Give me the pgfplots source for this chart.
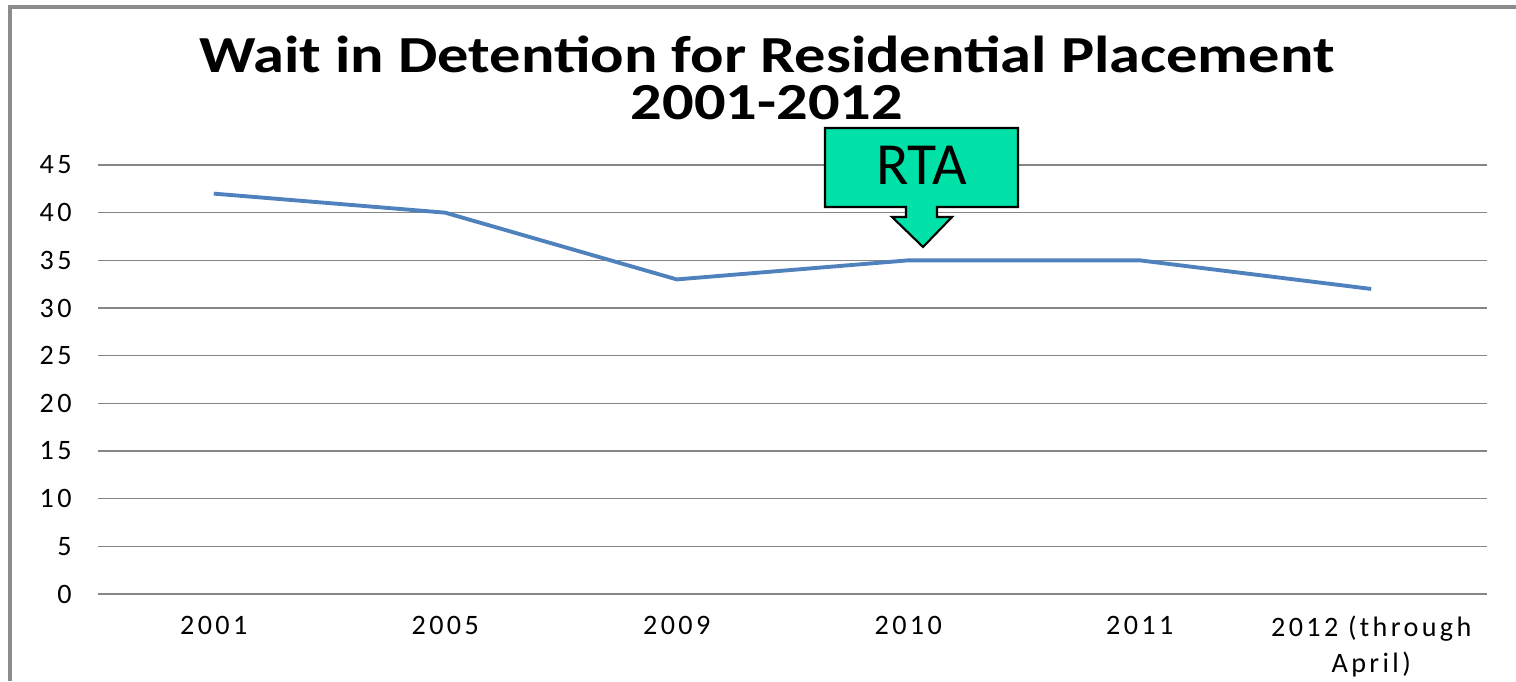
\documentclass[border=0pt]{standalone}
\usepackage{fontspec}
\setmainfont{Carlito}
\newfontfamily\tickfont[LetterSpace=12]{Carlito}
\newfontfamily\titlefont[FakeStretch=1.2]{Carlito}
\usepackage{pgfplots}
\pgfplotsset{compat=1.18}
\definecolor{linecol}{RGB}{79,129,189}
\definecolor{gridcol}{RGB}{134,134,134}
\definecolor{rtagreen}{RGB}{0,226,168}
\definecolor{framecol}{RGB}{140,140,140}

\begin{document}
\begin{tikzpicture}
  \useasboundingbox (0,0) rectangle (15.16cm,6.81cm);
  % outer frame (left and top only)
  \draw[framecol, line width=0.9pt] (0.10cm,0) -- (0.10cm,6.74cm) -- (15.16cm,6.74cm);

  \begin{axis}[
    at={(0.98cm,0.87cm)}, anchor=south west,
    scale only axis,
    width=13.89cm, height=4.29cm,
    xmin=-0.5, xmax=5.5,
    ymin=0, ymax=45,
    xtick={0,1,2,3,4,5},
    xticklabels={2001,2005,2009,2010,2011,{2012 (through\\April)}},
    ytick={0,5,...,45},
    ymajorgrids=true,
    grid style={draw=gridcol, line width=0.35pt},
    axis line style={draw=none},
    major tick length=0pt,
    tick label style={font=\tickfont\fontsize{8}{10}\selectfont},
    /pgf/number format/assume math mode=true,
    xticklabel style={align=center, anchor=north, yshift=-0.1cm},
    yticklabel style={anchor=east, xshift=-0.14cm},
    clip=false
  ]
    \addplot[linecol, line width=1.1pt, mark=none]
      coordinates {(0,42) (1,40) (2,33) (3,35) (4,35) (5,32)};
  \end{axis}

  % title
  \node[anchor=base, font=\titlefont\fontsize{14.8}{18}\selectfont\bfseries] at (7.67cm,6.08cm)
    {Wait in Detention for Residential Placement};
  \node[anchor=base, font=\titlefont\fontsize{14.8}{18}\selectfont\bfseries] at (7.67cm,5.61cm)
    {2001-2012};

  % RTA callout
  \draw[fill=rtagreen, line width=0.6pt, line join=miter]
    (8.25cm,5.53cm) -- (10.18cm,5.53cm) -- (10.18cm,4.74cm) -- (9.37cm,4.74cm) -- (9.37cm,4.64cm)
    -- (9.52cm,4.64cm) -- (9.23cm,4.34cm) -- (8.92cm,4.64cm) -- (9.06cm,4.64cm) -- (9.06cm,4.74cm)
    -- (8.25cm,4.74cm) -- cycle;
  \node[anchor=base, font=\fontsize{17}{20}\selectfont] at (9.215cm,4.96cm) {RTA};
\end{tikzpicture}
\end{document}
